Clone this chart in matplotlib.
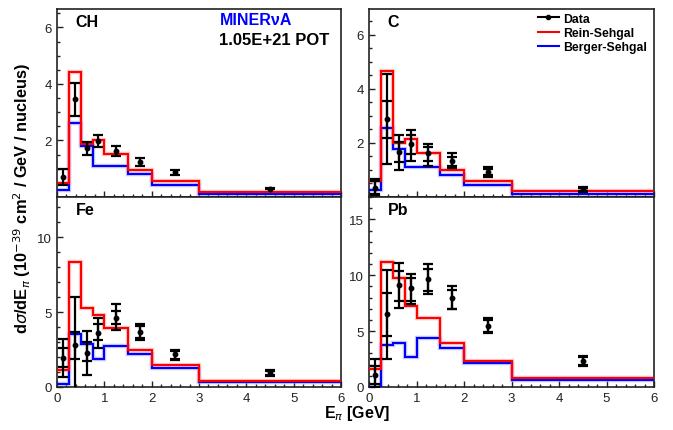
import matplotlib
matplotlib.use('Agg')
import matplotlib.pyplot as plt
import numpy as np
from matplotlib.ticker import MultipleLocator
from matplotlib.lines import Line2D

plt.rcParams['font.family'] = ['Liberation Sans', 'DejaVu Sans']

# bin edges in pion energy (GeV)
edges = [0, 0.25, 0.5, 0.75, 1.0, 1.5, 2.0, 3.0, 6.0]

# CH
ch_rs = [0.51, 4.43, 1.89, 2.01, 1.52, 0.94, 0.55, 0.16]
ch_bs = [0.23, 2.60, 1.80, 1.10, 1.10, 0.82, 0.43, 0.10]
ch_data = [0.70, 3.45, 1.72, 1.98, 1.63, 1.23, 0.88, 0.29]
ch_lo = [0.42, 2.88, 1.49, 1.76, 1.45, 1.08, 0.79, 0.27]
ch_hi = [0.98, 4.02, 1.95, 2.20, 1.81, 1.38, 0.97, 0.31]

# C
c_rs = [0.59, 4.66, 2.01, 2.14, 1.62, 1.01, 0.61, 0.21]
c_bs = [0.27, 2.56, 1.77, 1.12, 1.10, 0.83, 0.45, 0.12]
c_data = [0.34, 2.89, 1.65, 1.95, 1.62, 1.34, 0.94, 0.28]
c_lo = [0.03, 1.22, 1.00, 1.34, 1.16, 1.06, 0.73, 0.18]
c_hi = [0.65, 4.54, 2.28, 2.48, 1.98, 1.62, 1.12, 0.38]
c_slo = [0.10, 2.20, 1.31, 1.59, 1.34, 1.16, 0.80, 0.22]
c_shi = [0.58, 3.57, 2.04, 2.30, 1.86, 1.49, 1.05, 0.34]

# Fe
fe_rs = [1.16, 8.38, 5.27, 4.84, 3.93, 2.47, 1.49, 0.42]
fe_bs = [0.20, 3.53, 2.87, 1.87, 2.71, 2.20, 1.24, 0.31]
fe_data = [1.93, 2.80, 2.27, 3.64, 4.64, 3.69, 2.18, 0.98]
fe_lo = [0.69, -0.5, 0.82, 2.58, 3.82, 3.16, 1.82, 0.76]
fe_hi = [3.24, 6.02, 3.76, 4.64, 5.53, 4.20, 2.47, 1.16]
fe_slo = [1.31, 1.87, 1.76, 3.16, 4.20, 3.30, 1.90, 0.82]
fe_shi = [2.58, 3.69, 2.98, 4.20, 5.09, 4.05, 2.40, 1.10]

# Pb
pb_rs = [1.60, 11.20, 9.73, 7.26, 6.19, 3.90, 2.32, 0.77]
pb_bs = [0.00, 3.78, 3.90, 2.71, 4.40, 3.51, 2.11, 0.63]
pb_data = [1.07, 6.52, 9.10, 8.84, 9.70, 7.95, 5.48, 2.29]
pb_lo = [0.00, 2.50, 7.11, 7.47, 8.30, 6.96, 4.79, 1.85]
pb_hi = [2.50, 10.45, 11.07, 10.09, 10.98, 9.05, 6.13, 2.80]
pb_slo = [0.30, 4.58, 7.71, 7.71, 8.60, 7.02, 4.95, 1.95]
pb_shi = [1.90, 8.39, 10.39, 9.79, 10.54, 8.70, 6.00, 2.70]

panels = [
    ('CH', ch_rs, ch_bs, ch_data, ch_lo, ch_hi, None, None, 6.65, [2, 4, 6], 0.5),
    ('C', c_rs, c_bs, c_data, c_lo, c_hi, c_slo, c_shi, 6.96, [2, 4, 6], 0.5),
    ('Fe', fe_rs, fe_bs, fe_data, fe_lo, fe_hi, fe_slo, fe_shi, 12.7, [0, 5, 10], 1),
    ('Pb', pb_rs, pb_bs, pb_data, pb_lo, pb_hi, pb_slo, pb_shi, 17.0, [0, 5, 10, 15], 1),
]

W, H = 673, 431
fig = plt.figure(figsize=(W / 100, H / 100), dpi=100)

# axes boxes in pixels: left, top, right, bottom
boxes = [(57, 10, 341, 198), (369, 10, 654, 198),
         (57, 198, 341, 388), (369, 198, 654, 388)]

centers = (np.array(edges[:-1]) + np.array(edges[1:])) / 2

axes = []
for i, (box, p) in enumerate(zip(boxes, panels)):
    l, t, r, b = box
    ax = fig.add_axes([l / W, (H - b) / H, (r - l) / W, (b - t) / H])
    axes.append(ax)
    name, rs, bs, d, lo, hi, slo, shi, ymax, yt, ymin_step = p

    for vals, col, halo in [(bs, '#0000ff', '#9999ff'), (rs, '#ff0000', '#ff9999')]:
        ax.stairs(vals, edges, baseline=None, color=halo, lw=3.2, alpha=0.5, zorder=2)
        ax.stairs(vals, edges, baseline=None, color=col, lw=1.5, zorder=3)

    d = np.array(d)
    yerr = [d - np.array(lo), np.array(hi) - d]
    ax.errorbar(centers, d, yerr=yerr, fmt='o', color='black', ms=3.2,
                elinewidth=1.6, capsize=3.5, capthick=1.6, zorder=4)
    if slo is not None:
        serr = [d - np.array(slo), np.array(shi) - d]
        ax.errorbar(centers, d, yerr=serr, fmt='none', ecolor='black',
                    elinewidth=1.6, capsize=3.5, capthick=1.6, zorder=4)

    ax.set_xlim(0, 6.0)
    ax.set_ylim(0, ymax)
    ax.set_yticks(yt)
    ax.yaxis.set_minor_locator(MultipleLocator(ymin_step))
    ax.xaxis.set_major_locator(MultipleLocator(1))
    ax.xaxis.set_minor_locator(MultipleLocator(0.2))
    ax.tick_params(which='both', direction='in', top=False, right=False,
                   labelsize=9.5, colors='#222222')
    ax.tick_params(which='major', length=4.5, width=1)
    ax.tick_params(which='minor', length=2.2, width=1)
    if i < 2:
        ax.tick_params(axis='x', labelbottom=False)
    for s in ax.spines.values():
        s.set_linewidth(1.2)
        s.set_color('#222222')

    ax.text(0.065, 0.975, name, transform=ax.transAxes, fontsize=11.5,
            fontweight='bold', va='top', ha='left')

# MINERvA label
axes[0].text(0.575, 0.945, 'MINERνA', transform=axes[0].transAxes, color='#0000ff',
             fontsize=11.5, fontweight='bold', va='center', ha='left')
axes[0].text(0.57, 0.84, '1.05E+21 POT', transform=axes[0].transAxes,
             fontsize=12, fontweight='bold', va='center', ha='left')

# legend
handles = [Line2D([], [], color='black', marker='o', ms=3, lw=1.5),
           Line2D([], [], color='#ff0000', lw=1.5),
           Line2D([], [], color='#0000ff', lw=1.5)]
axes[1].legend(handles, ['Data', 'Rein-Sehgal', 'Berger-Sehgal'],
               loc='upper right', bbox_to_anchor=(1.0, 1.02), frameon=False,
               prop={'weight': 'bold', 'size': 8.8}, handlelength=1.7,
               handletextpad=0.35, labelspacing=0.2, borderaxespad=0.2)

fig.text(22 / W, 1 - 198 / H, r'd$\sigma$/dE$_{\pi}$ (10$^{-39}$ cm$^{2}$ / GeV / nucleus)',
         rotation=90, ha='center', va='center', fontsize=11.8, fontweight='bold')
fig.text(357 / W, 1 - 414 / H, r'E$_{\pi}$ [GeV]', ha='center', va='center',
         fontsize=11.5, fontweight='bold')

fig.savefig('out.png', dpi=100)
